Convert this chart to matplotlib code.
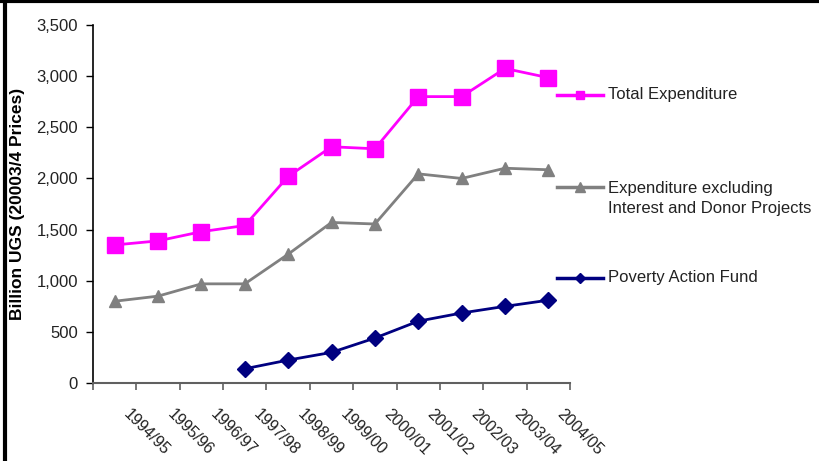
import numpy as np
import matplotlib.pyplot as plt
import matplotlib.transforms as mtransforms
from matplotlib.lines import Line2D

plt.rcParams['font.family'] = ['Liberation Sans', 'DejaVu Sans']

# Data (billion UGS, 2003/4 prices)
years = ['1994/95', '1995/96', '1996/97', '1997/98', '1998/99', '1999/00',
         '2000/01', '2001/02', '2002/03', '2003/04', '2004/05']
total_exp = [1350, 1390, 1480, 1540, 2020, 2310, 2290, 2800, 2800, 3075, 2985]
exp_excl = [800, 850, 970, 970, 1260, 1570, 1555, 2045, 2000, 2100, 2085]
paf_years = years[3:]
paf = [140, 225, 300, 440, 605, 685, 750, 810]

magenta = '#FF00FF'
grey = '#808080'
navy = '#000080'
txt = '#222222'

fig = plt.figure(figsize=(8.19, 4.61), dpi=100)
ax = fig.add_axes([0.1136, 0.169, 0.5824, 0.7768])

x = np.arange(len(years))
xp = np.arange(len(years) - len(paf), len(years))

ax.plot(x, total_exp, color=magenta, lw=2.0, marker='s', ms=11, zorder=3)
ax.plot(x, exp_excl, color=grey, lw=2.0, marker='^', ms=9, zorder=3)
ax.plot(xp, paf, color=navy, lw=2.0, marker='D', ms=8.5, zorder=3)

ax.set_xlim(-0.5, len(years) - 0.5)
ax.set_ylim(0, 3500)
ax.set_yticks(np.arange(0, 3501, 500))
ax.set_yticklabels([f'{v:,}' for v in range(0, 3501, 500)], fontsize=12,
                   color=txt)

# category boundaries get the tick marks, labels sit at the centres
ax.set_xticks(np.arange(-0.5, len(years), 1.0), minor=True)
ax.set_xticks(x)
ax.set_xticklabels(years, fontsize=11.5, rotation=-45, ha='left',
                   rotation_mode='anchor', color=txt)
ax.tick_params(axis='x', which='major', length=0, pad=17)
ax.tick_params(axis='x', which='minor', length=5, width=1.2, color='#606060')
ax.tick_params(axis='y', length=5, width=1.0, pad=6)
shift = mtransforms.ScaledTranslation(12 / 72, 0, fig.dpi_scale_trans)
for lab in ax.get_xticklabels():
    lab.set_transform(lab.get_transform() + shift)

for side in ['top', 'right']:
    ax.spines[side].set_visible(False)
ax.spines['left'].set_color('black')
ax.spines['left'].set_linewidth(1.2)
ax.spines['bottom'].set_color('#606060')
ax.spines['bottom'].set_linewidth(1.5)

ax.set_ylabel('Billion UGS (20003/4 Prices)', fontsize=12.5, fontweight='bold')
ax.yaxis.set_label_coords(-0.1426, 0.5)

# legend entries to the right of the plot
entries = [
    (magenta, 's', 6, 0.794, 'Total Expenditure'),
    (grey, '^', 6.5, 0.594, 'Expenditure excluding\nInterest and Donor Projects'),
    (navy, 'D', 5.5, 0.397, 'Poverty Action Fund'),
]
for col, mk, ms, yy, text in entries:
    fig.add_artist(Line2D([0.680, 0.736], [yy, yy], color=col, lw=2.5,
                          transform=fig.transFigure))
    fig.add_artist(Line2D([0.708], [yy], color=col, marker=mk, ms=ms,
                          transform=fig.transFigure))
    if '\n' in text:
        fig.text(0.742, yy + 0.013, text, fontsize=12, color=txt, va='top',
                 linespacing=1.4)
    else:
        fig.text(0.742, yy, text, fontsize=12, color=txt, va='center')

# frame lines along the top and left edges
fig.add_artist(Line2D([0, 1], [0.997, 0.997], color='black', lw=3,
                      transform=fig.transFigure))
fig.add_artist(Line2D([0.006, 0.006], [0, 1], color='black', lw=3,
                      transform=fig.transFigure))

plt.savefig('out.png', dpi=100)
